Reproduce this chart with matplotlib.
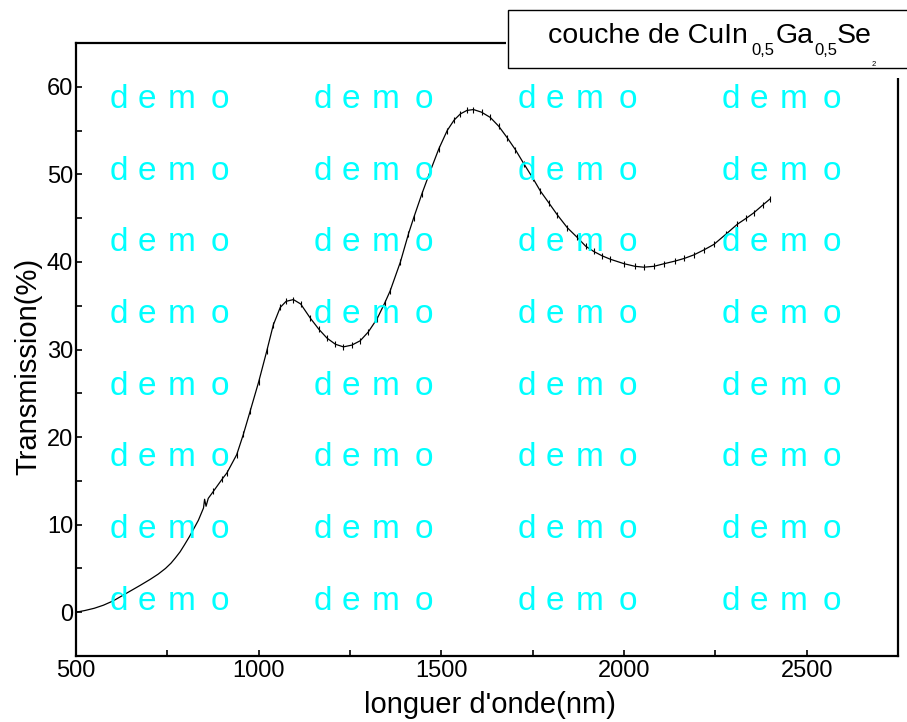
import matplotlib
matplotlib.use('Agg')
import matplotlib.pyplot as plt
from matplotlib.patches import Rectangle

plt.rcParams['font.family'] = ['Liberation Sans', 'DejaVu Sans']

# spectre de transmission
wavelength = [500, 525, 550, 575, 602, 625, 650, 675, 703, 725, 745, 760, 772, 785,
              797, 810, 822, 835, 849, 852, 856, 862, 876,
              900, 913, 940, 958, 977, 1000, 1022, 1040, 1059, 1075, 1095, 1115,
              1141, 1165, 1187, 1210, 1232, 1255, 1278, 1300, 1324, 1345, 1360,
              1388, 1410, 1424, 1447, 1470, 1493, 1516, 1535, 1552, 1570, 1588,
              1610, 1634, 1657, 1680, 1703, 1726, 1750, 1771, 1795, 1817, 1845,
              1872, 1895, 1917, 1940, 1963, 2000, 2030, 2054, 2082, 2110, 2140,
              2165, 2191, 2220, 2246, 2280, 2310, 2335, 2355, 2380, 2400]
transmission = [0.0, 0.2, 0.45, 0.8, 1.3, 1.85, 2.45, 3.05, 3.75, 4.35, 5.0, 5.6, 6.2, 6.9,
                7.7, 8.6, 9.5, 10.5, 11.9, 12.9, 12.1, 13.0, 13.8,
                15.2, 15.9, 18.0, 20.3, 23.0, 26.3, 29.8, 32.8, 34.8, 35.5, 35.7, 35.2,
                33.6, 32.3, 31.3, 30.6, 30.3, 30.5, 31.0, 32.0, 33.5, 35.3, 36.7,
                40.0, 43.2, 45.0, 47.8, 50.4, 52.9, 55.0, 56.2, 56.9, 57.3, 57.4,
                57.1, 56.5, 55.5, 54.2, 52.8, 51.2, 49.6, 48.1, 46.7, 45.4, 43.9,
                42.8, 41.8, 41.2, 40.7, 40.3, 39.8, 39.5, 39.4, 39.5, 39.8, 40.1,
                40.4, 40.8, 41.4, 42.0, 43.2, 44.3, 45.0, 45.6, 46.5, 47.2]

x_ticks = [500, 1000, 1500, 2000, 2500]
y_ticks = [0, 10, 20, 30, 40, 50, 60]

W, H = 907, 722
fig = plt.figure(figsize=(W / 100, H / 100), dpi=100)
ax = fig.add_axes([76 / W, 1 - 656 / H, (898 - 76) / W, (656 - 43) / H])

ax.plot(wavelength, transmission, color='black', lw=0.9)
# petites oscillations (bruit de mesure)
n0 = wavelength.index(876)
ax.plot(wavelength[n0:], transmission[n0:], ls='none', marker='|',
        ms=4, mew=0.8, color='black')

ax.set_xlim(500, 2750)
ax.set_ylim(-5, 65)
ax.set_xticks(x_ticks)
ax.set_yticks(y_ticks)
ax.set_xticks([750, 1250, 1750, 2250], minor=True)
ax.set_yticks([5, 15, 25, 35, 45, 55], minor=True)
ax.tick_params(which='both', direction='in', width=1.2, labelsize=17)
ax.tick_params(which='major', length=4)
ax.tick_params(which='minor', length=4)
ax.tick_params(axis='x', pad=3)
ax.tick_params(axis='y', pad=2)
for s in ax.spines.values():
    s.set_linewidth(1.6)

fig.text(490 / W, 1 - 705 / H, "longuer d'onde(nm)", ha='center', va='center', fontsize=21)
fig.text(28 / W, 1 - 366 / H, 'Transmission(%)', ha='center', va='center',
         rotation=90, fontsize=21)

# filigrane "demo"
for r in range(8):
    yb = 108 + r * 71.7
    for c in range(4):
        x0 = 110 + c * 204
        for dx, ch in zip([0, 28, 58, 101], 'demo'):
            fig.text((x0 + dx) / W, 1 - yb / H, ch, color='#00FFFF', fontsize=24,
                     ha='left', va='baseline')

# cadre de légende
fig.patches.append(Rectangle((506 / W, 1 - 78 / H), 420 / W, 70 / H,
                             transform=fig.transFigure, fc='white', ec='none', zorder=5))
fig.patches.append(Rectangle((508 / W, 1 - 68 / H), 420 / W, 58 / H,
                             transform=fig.transFigure, fc='white', ec='black', lw=1.0, zorder=6))
pieces = [('couche de CuIn', 548, 43, 20.5), ('0,5', 751, 55, 12),
          ('Ga', 776, 43, 20.5), ('0,5', 814, 55, 12),
          ('Se', 837, 43, 20.5), ('2', 872, 66, 5.5)]
for s, px, py, fs in pieces:
    fig.text(px / W, 1 - py / H, s, ha='left', va='baseline', fontsize=fs, zorder=7)

fig.savefig('out.png', dpi=100)
